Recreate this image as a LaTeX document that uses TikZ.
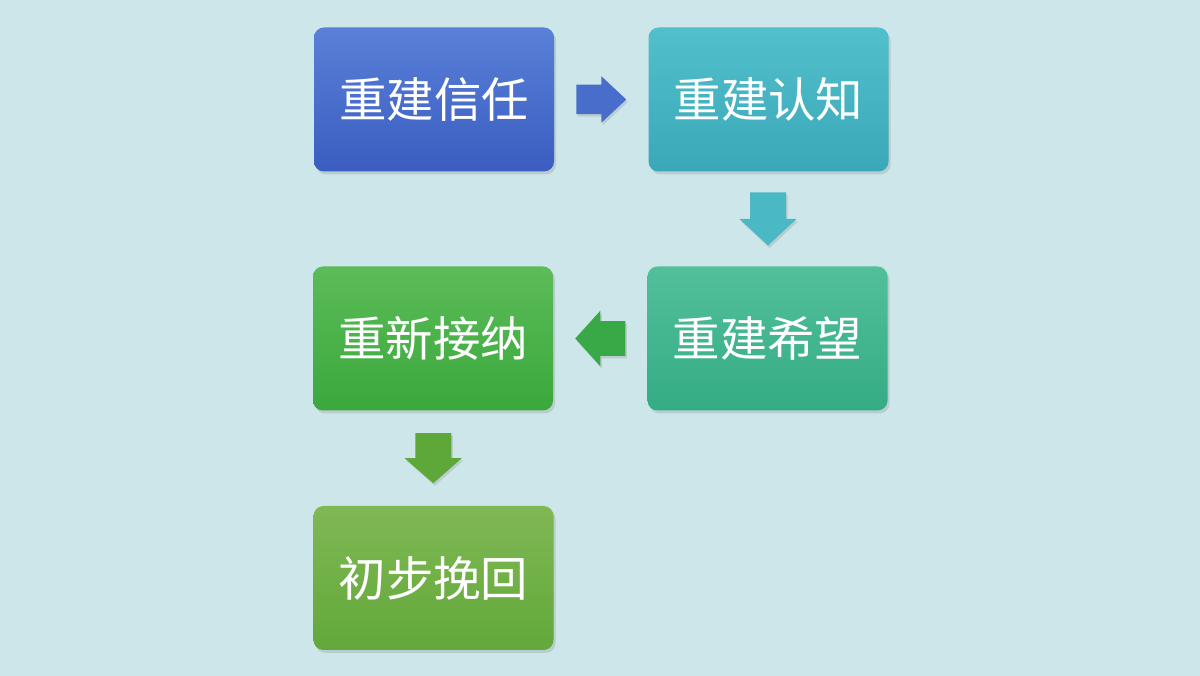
\documentclass[tikz,border=0pt]{standalone}
\usepackage{fontspec}
\newfontfamily\cjk{Noto Sans CJK SC}
\usetikzlibrary{calc,shadows}

\definecolor{bgcol}{HTML}{CDE6E9}
\definecolor{blueTop}{HTML}{5A80D8}
\definecolor{blueBot}{HTML}{3A5DC0}
\definecolor{tealTop}{HTML}{52BFCC}
\definecolor{tealBot}{HTML}{3AA8B8}
\definecolor{seaTop}{HTML}{52C09A}
\definecolor{seaBot}{HTML}{34AC84}
\definecolor{greenTop}{HTML}{5CBC58}
\definecolor{greenBot}{HTML}{3AA83C}
\definecolor{oliveTop}{HTML}{80B854}
\definecolor{oliveBot}{HTML}{62A83A}

\tikzset{
  stagebox/.style={rounded corners=0.2cm, minimum width=4.8cm, minimum height=2.88cm,
    text=white, font=\cjk\fontsize{27}{30}\selectfont,
    drop shadow={shadow xshift=0.04cm, shadow yshift=-0.06cm, opacity=0.25}},
  pics/flowarrow/.style={code={
    \fill[#1, drop shadow={shadow xshift=0.03cm, shadow yshift=-0.05cm, opacity=0.25}]
      (-0.5,-0.36) -- (0,-0.36) -- (0,-0.57) -- (0.5,0) -- (0,0.57)
      -- (0,0.36) -- (-0.5,0.36) -- cycle;
  }}
}

\begin{document}
\begin{tikzpicture}
  \useasboundingbox (0,0) rectangle (24,13.52);
  \fill[bgcol] (0,0) rectangle (24,13.52);
  % 五个阶段
  \node[stagebox, top color=blueTop, bottom color=blueBot] (trust) at (8.68,11.53) {重建信任};
  \node[stagebox, top color=tealTop, bottom color=tealBot] (cognition) at (15.37,11.53) {重建认知};
  \node[stagebox, top color=seaTop, bottom color=seaBot] (hope) at (15.35,6.75) {重建希望};
  \node[stagebox, top color=greenTop, bottom color=greenBot] (accept) at (8.66,6.75) {重新接纳};
  \node[stagebox, top color=oliveTop, bottom color=oliveBot] (recover) at (8.67,1.96) {初步挽回};
  % 箭头
  \pic[yscale=0.82] at ($(trust.east)!0.5!(cognition.west)$) {flowarrow={blueTop!45!blueBot}};
  \pic[rotate=-90, xscale=1.06] at ($(cognition.south)!0.5!(hope.north)$) {flowarrow={tealTop!70!tealBot}};
  \pic[rotate=180, yscale=0.97] at ($(hope.west)!0.5!(accept.east)$) {flowarrow={greenBot!85!seaBot}};
  \pic[rotate=-90] at ($(accept.south)!0.5!(recover.north)$) {flowarrow={oliveBot!90!greenBot}};
\end{tikzpicture}
\end{document}
